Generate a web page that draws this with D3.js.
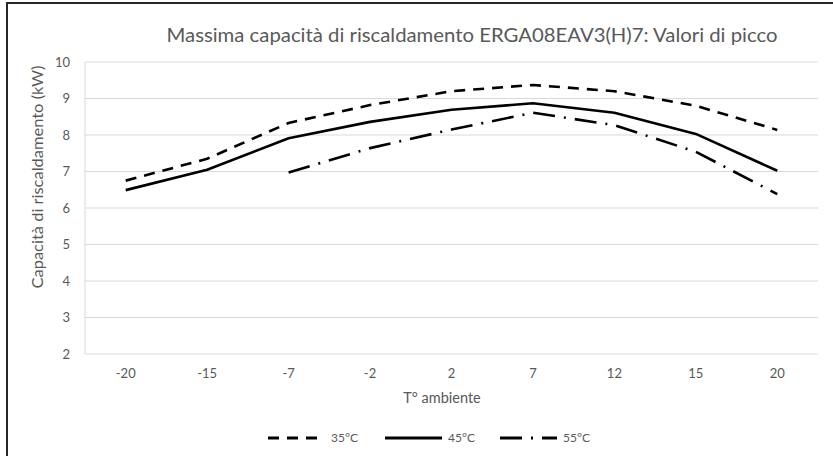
<!DOCTYPE html>
<html><head><meta charset="utf-8">
<script src="https://cdn.jsdelivr.net/npm/d3@7/dist/d3.min.js"></script>
<style>body{margin:0;background:#fff}svg{display:block}text{font-family:Lato,sans-serif}</style>
</head><body><svg id="c" width="833" height="456"></svg>
<script>
const categories = ["-20","-15","-7","-2","2","7","12","15","20"];
const s35 = [6.75,7.35,8.33,8.82,9.2,9.37,9.2,8.8,8.14];
const s45 = [6.49,7.05,7.91,8.36,8.69,8.87,8.61,8.03,7.02];
const s55 = [null,null,6.97,7.64,8.15,8.61,8.27,7.54,6.38];
const seriesNames = ["35°C","45°C","55°C"];
const yTicks = [2,3,4,5,6,7,8,9,10];
const title = "Massima capacità di riscaldamento ERGA08EAV3(H)7: Valori di picco";

const svg = d3.select("#c");
const m = {l:85, r:818, t:62, b:354};
const x = d3.scaleBand().domain(categories).range([m.l, m.r]);
const y = d3.scaleLinear().domain([2,10]).range([m.b, m.t]);

svg.append("line").attr("x1",7).attr("x2",833).attr("y1",3).attr("y2",3).attr("stroke","#262626").attr("stroke-width",2);
svg.append("line").attr("x1",7).attr("x2",7).attr("y1",2).attr("y2",456).attr("stroke","#262626").attr("stroke-width",2);

svg.append("g").selectAll("line").data(yTicks).join("line")
  .attr("x1",m.l).attr("x2",m.r).attr("y1",d=>y(d)).attr("y2",d=>y(d))
  .attr("stroke","#d9d9d9").attr("stroke-width",1);
svg.append("line").attr("x1",m.l).attr("x2",m.l).attr("y1",m.t).attr("y2",m.b).attr("stroke","#d9d9d9");

const yAxis = d3.axisLeft(y).tickValues(yTicks).tickSize(0).tickPadding(15);
const gy = svg.append("g").attr("transform",`translate(${m.l},0)`).call(yAxis);
gy.select(".domain").remove();
gy.selectAll("text").attr("fill","#595959").style("font-size","13px").style("font-family","Lato,sans-serif");

const xAxis = d3.axisBottom(x).tickSize(0).tickPadding(15);
const gx = svg.append("g").attr("transform",`translate(0,${m.b})`).call(xAxis);
gx.select(".domain").remove();
gx.selectAll("text").attr("fill","#595959").style("font-size","13px").style("font-family","Lato,sans-serif");

svg.append("text").attr("x",472).attr("y",42).attr("text-anchor","middle").attr("fill","#595959")
  .style("font-size","19px").attr("textLength",611).attr("lengthAdjust","spacingAndGlyphs").text(title);
svg.append("text").attr("transform","translate(43,177) rotate(-90)").attr("text-anchor","middle").attr("fill","#595959")
  .style("font-size","14.5px").attr("textLength",223).attr("lengthAdjust","spacingAndGlyphs").text("Capacità di riscaldamento (kW)");
svg.append("text").attr("x",442).attr("y",403).attr("text-anchor","middle").attr("fill","#595959")
  .style("font-size","14.5px").text("T° ambiente");

const dashes = ["11,8", null, "22,9,2,9"];
const series = [s35,s45,s55];
const line = d3.line().defined(d=>d!=null).x((d,i)=>x(categories[i])+x.bandwidth()/2).y(d=>y(d));
series.forEach((s,k)=>{
  svg.append("path").datum(s).attr("d",line).attr("fill","none").attr("stroke","#000")
    .attr("stroke-width",2.6).attr("stroke-dasharray",dashes[k]).attr("stroke-linejoin","round");
});

const lx = [268,385,500];
seriesNames.forEach((n,k)=>{
  svg.append("line").attr("x1",lx[k]).attr("x2",lx[k]+57).attr("y1",438).attr("y2",438)
    .attr("stroke","#000").attr("stroke-width",2.8).attr("stroke-dasharray",dashes[k]);
  svg.append("text").attr("x",lx[k]+63).attr("y",442).attr("fill","#595959").style("font-size","12px").text(n);
});
</script></body></html>
